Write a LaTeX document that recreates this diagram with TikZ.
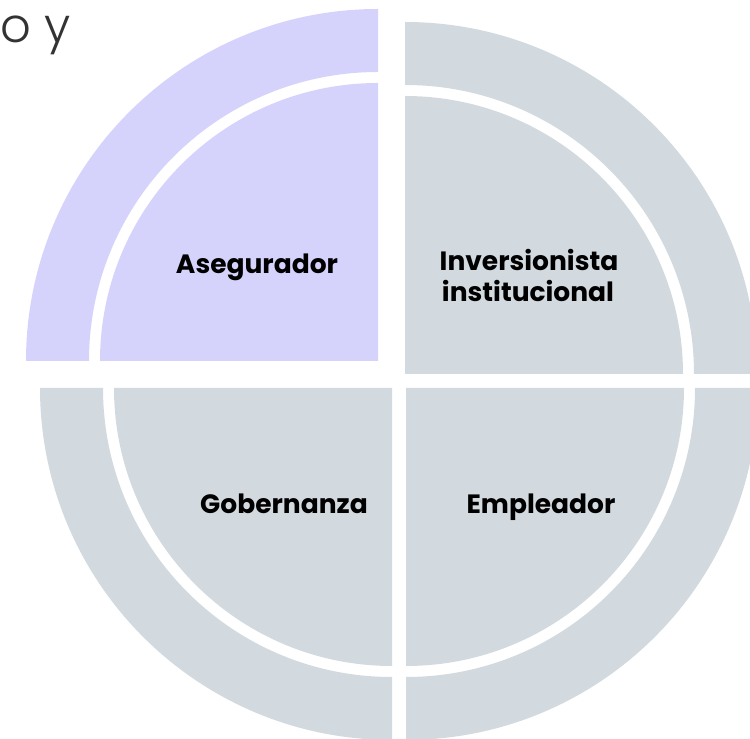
\documentclass[tikz,border=0pt]{standalone}
\usepackage{fontspec}
\usetikzlibrary{calc}
\setmainfont{Poppins}
\newfontfamily\lightfont{Poppins Light}
\definecolor{lav}{RGB}{213,211,251}
\definecolor{slate}{RGB}{210,218,223}
\begin{document}
\begin{tikzpicture}[x=1pt,y=1pt,
  lbl/.style={font=\fontsize{26.5}{31}\selectfont\bfseries,text=black,anchor=base,inner sep=0pt,align=center}]
\useasboundingbox (0,0) rectangle (750,739);
\def\ri{278}\def\rr{289}\def\ro{352}
% corners
\coordinate (tl) at (378,378);
\coordinate (tr) at (405,365);
\coordinate (bl) at (392,351);
\coordinate (br) at (406,351);
% top-left (lavender)
\fill[lav] (tl) -- ++(180:\ri) arc[start angle=180,end angle=90,radius=\ri] -- cycle;
\fill[lav] ($(tl)+(180:\rr)$) arc[start angle=180,end angle=90,radius=\rr] -- ($(tl)+(90:\ro)$) arc[start angle=90,end angle=180,radius=\ro] -- cycle;
% top-right
\fill[slate] (tr) -- ++(90:\ri) arc[start angle=90,end angle=0,radius=\ri] -- cycle;
\fill[slate] ($(tr)+(90:\rr)$) arc[start angle=90,end angle=0,radius=\rr] -- ($(tr)+(0:\ro)$) arc[start angle=0,end angle=90,radius=\ro] -- cycle;
% bottom-left
\fill[slate] (bl) -- ++(270:\ri) arc[start angle=270,end angle=180,radius=\ri] -- cycle;
\fill[slate] ($(bl)+(270:\rr)$) arc[start angle=270,end angle=180,radius=\rr] -- ($(bl)+(180:\ro)$) arc[start angle=180,end angle=270,radius=\ro] -- cycle;
% bottom-right
\fill[slate] (br) -- ++(0:\ri) arc[start angle=0,end angle=-90,radius=\ri] -- cycle;
\fill[slate] ($(br)+(0:\rr)$) arc[start angle=0,end angle=-90,radius=\rr] -- ($(br)+(270:\ro)$) arc[start angle=270,end angle=360,radius=\ro] -- cycle;
% labels
\node[lbl] (aseg) at (257,465) {Asegurador};
\node[lbl] (inv) at (529,468) {Inversionista};
\node[lbl] (inst) at (528,437) {institucional};
\node[lbl] (gob) at (284,225) {Gobernanza};
\node[lbl] (emp) at (541,225) {Empleador};
\node[font=\lightfont\fontsize{48}{50}\selectfont,anchor=base west,inner sep=0pt,text=black!80] (oy) at (0,696) {o y};
\end{tikzpicture}
\end{document}
